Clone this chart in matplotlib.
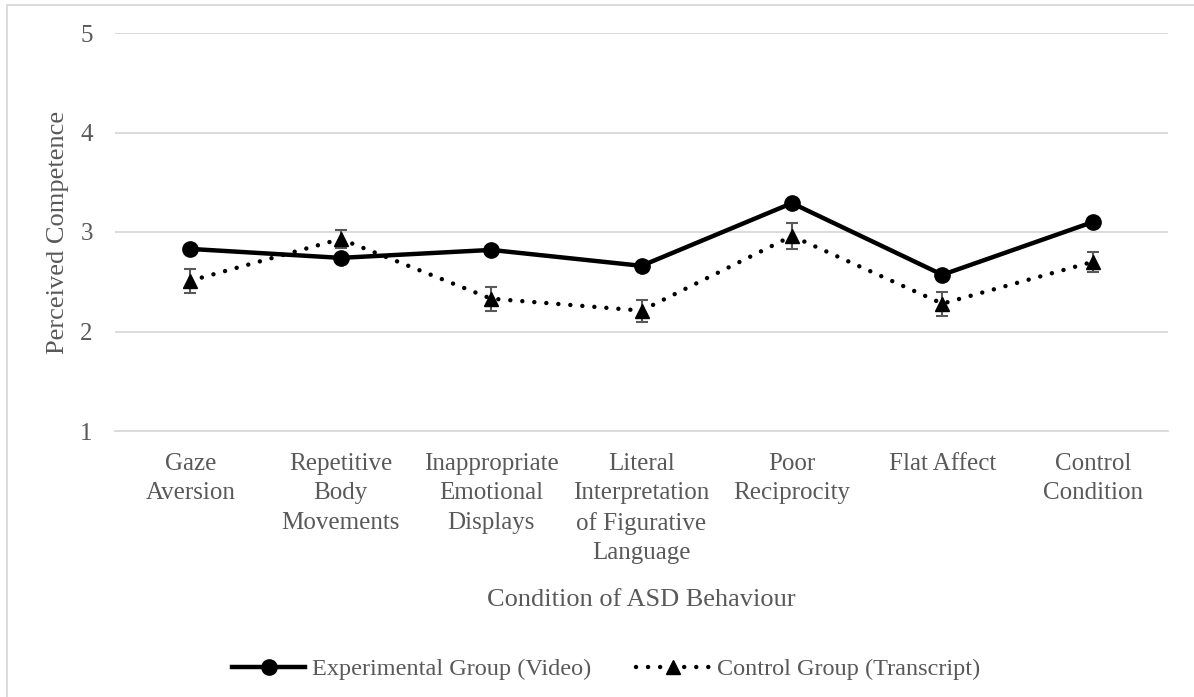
import matplotlib
matplotlib.use("Agg")
import matplotlib.pyplot as plt
from matplotlib.patches import Rectangle

categories = ["Gaze\nAversion", "Repetitive\nBody\nMovements", "Inappropriate\nEmotional\nDisplays",
              "Literal\nInterpretation\nof Figurative\nLanguage", "Poor\nReciprocity", "Flat Affect",
              "Control\nCondition"]
experimental = [2.83, 2.74, 2.82, 2.66, 3.29, 2.57, 3.10]
control = [2.51, 2.93, 2.33, 2.21, 2.96, 2.28, 2.70]
control_err = [0.12, 0.09, 0.12, 0.11, 0.13, 0.12, 0.10]
yticks = [1, 2, 3, 4, 5]

plt.rcParams['font.family'] = ['Liberation Serif', 'DejaVu Serif']
TXT = '#595959'
GRID = '#d9d9d9'

W, H = 1194, 697
fig = plt.figure(figsize=(W / 100, H / 100), dpi=100)
ax = fig.add_axes([115 / W, 1 - 431 / H, (1168 - 115) / W, (431 - 33) / H])

x = list(range(len(categories)))
ax.plot(x, experimental, color='black', lw=3.2, marker='o', markersize=11,
        solid_joinstyle='round', label='Experimental Group (Video)', zorder=4)
ax.errorbar(x, control, yerr=control_err, fmt='none', ecolor='#595959', elinewidth=1.5,
            capsize=4.5, capthick=1.5, zorder=2)
ln, = ax.plot(x, control, color='black', lw=3.2, marker='^', markersize=10.5,
              label='Control Group (Transcript)', zorder=3)
ln.set_dashes([0.01, 2.7])
ln.set_dash_capstyle('round')

ax.set_xlim(-0.5, len(categories) - 0.5)
ax.set_ylim(1, 5)
ax.set_yticks(yticks)
ax.yaxis.grid(True, color=GRID, lw=1.3)
ax.set_axisbelow(True)
for s in ['top', 'right', 'left']:
    ax.spines[s].set_visible(False)
ax.spines['bottom'].set_color(GRID)
ax.spines['bottom'].set_linewidth(1.3)
ax.tick_params(axis='both', length=0, labelsize=18, colors=TXT)
ax.tick_params(axis='y', pad=16)
ax.tick_params(axis='x', pad=16)
ax.set_xticks(x)
ax.set_xticklabels(categories, linespacing=1.42, va='top')
ax.set_xlabel('Condition of ASD Behaviour', fontsize=19, color=TXT, labelpad=18)
ax.set_ylabel('Perceived Competence', fontsize=19, color=TXT, labelpad=8)

leg = fig.legend(loc='center', bbox_to_anchor=(606 / W, 1 - 669 / H), ncol=2, frameon=False,
                 fontsize=17.5, handlelength=3.0, columnspacing=1.85, handletextpad=0.3)
for t in leg.get_texts():
    t.set_color(TXT)

fig.patches.append(Rectangle((7 / W, -0.1), 1.2, 1 - 5 / H + 0.1, transform=fig.transFigure,
                             fill=False, edgecolor=GRID, lw=1.3))

fig.savefig('out.png', dpi=100)
